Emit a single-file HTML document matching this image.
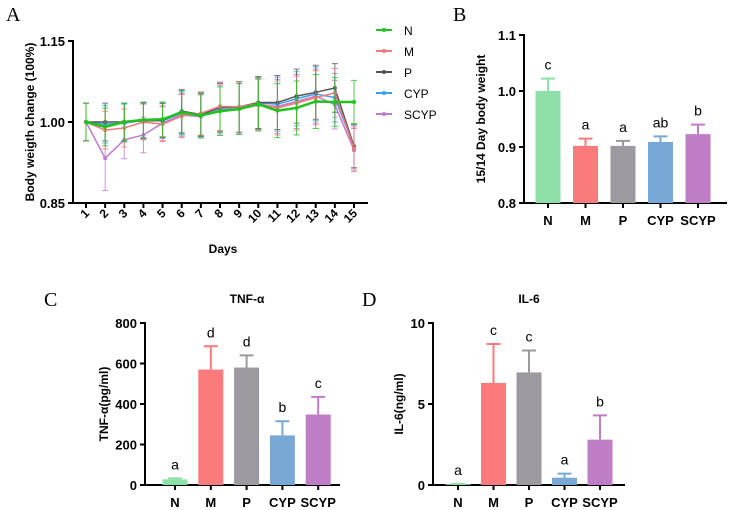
<!DOCTYPE html>
<html><head><meta charset="utf-8"><style>
body{margin:0;background:#fff;}
svg{display:block;font-family:"Liberation Sans",Arial,sans-serif;}
.b{font-weight:bold;}
</style></head><body>
<svg id="s" width="730" height="510" viewBox="0 0 730 510">
<text x="6" y="21" font-family="Liberation Serif" font-size="20">A</text>
<text x="453" y="21" font-family="Liberation Serif" font-size="20">B</text>
<text x="44" y="306" font-family="Liberation Serif" font-size="20">C</text>
<text x="362" y="306" font-family="Liberation Serif" font-size="20">D</text>
<g id="gA"></g>
<g id="gB"></g>
<g id="gC"></g>
<g id="gD"></g>
</svg>
<script>
const NS='http://www.w3.org/2000/svg';
// Panel A data
const days=[1,2,3,4,5,6,7,8,9,10,11,12,13,14,15];
const seriesNames=['N','M','P','CYP','SCYP'];
const lineColors=['#1fc21f','#f07878','#555555','#3aa0e8','#c07ad0'];
const valN=[1.0,0.991,1.0,1.004,1.005,1.018,1.012,1.02,1.024,1.033,1.021,1.026,1.038,1.037,1.037];
const valM=[1.0,0.985,0.989,1.0,0.996,1.011,1.016,1.029,1.028,1.034,1.026,1.035,1.045,1.054,0.951];
const valP=[1.0,1.0,1.0,1.002,1.003,1.02,1.014,1.027,1.028,1.036,1.036,1.048,1.055,1.063,0.955];
const valCYP=[1.0,0.996,0.998,1.003,1.002,1.016,1.013,1.026,1.027,1.035,1.033,1.043,1.052,1.045,0.955];
const valSCYP=[1.0,0.933,0.967,0.976,0.998,1.013,1.01,1.023,1.024,1.031,1.029,1.038,1.048,1.032,0.948];
const errA=[0.035,0.035,0.035,0.033,0.032,0.04,0.04,0.045,0.047,0.048,0.05,0.05,0.05,0.045,0.04];
const errSCYP2=0.06;
const ticksA=[0.85,1.00,1.15];
// bar data
const groups=['N','M','P','CYP','SCYP'];
const barColors=['#8fdfa8','#fb7a7c','#9c9a9e','#78a9d6','#bf7dc6'];
const valB=[1.0,0.902,0.902,0.909,0.923];
const errB=[0.022,0.013,0.009,0.01,0.017];
const letB=['c','a','a','ab','b'];
const ticksB=[0.8,0.9,1.0,1.1];
const valC=[28,570,580,245,348];
const errC=[5,115,60,70,87];
const letC=['a','d','d','b','c'];
const ticksC=[0,200,400,600,800];
const valD=[0.05,6.3,6.95,0.45,2.8];
const errD=[0.02,2.4,1.35,0.25,1.5];
const letD=['a','c','c','a','b'];
const ticksD=[0,5,10];

function el(p,t,a,txt){const e=document.createElementNS(NS,t);for(const k in a)e.setAttribute(k,a[k]);if(txt!==undefined)e.textContent=txt;p.appendChild(e);return e;}

// Panel A
(function(){
const g=document.getElementById('gA');
const x=d=>86+(d-1)*(354-86)/14;
const y=v=>203-(v-0.85)/(0.30)*162;
el(g,'line',{x1:73,y1:40,x2:73,y2:204,stroke:'#000','stroke-width':2});
el(g,'line',{x1:72,y1:203,x2:368,y2:203,stroke:'#000','stroke-width':2});
ticksA.forEach(t=>{
  const tk=el(g,'line',{x1:68,x2:73,y1:y(t),y2:y(t),stroke:'#000','stroke-width':2});
  
  const l=el(g,'text',{x:65,y:y(t)+5,'text-anchor':'end','font-size':13,class:'b'},t.toFixed(2));
  
});
days.forEach(d=>{
  el(g,'line',{x1:x(d),x2:x(d),y1:203,y2:208,stroke:'#000','stroke-width':2});
  const l=el(g,'text',{x:x(d)+4,y:214,'text-anchor':'end','font-size':12,class:'b',transform:`rotate(-45 ${x(d)+4} 214)`},d);
  
});
const t1=el(g,'text',{x:223,y:253,'text-anchor':'middle','font-size':12,class:'b'},'Days');

const t2=el(g,'text',{x:0,y:0,'text-anchor':'middle','font-size':12,class:'b',transform:'translate(34 122) rotate(-90)'},'Body weigth change (100%)');

const all=[valSCYP,valCYP,valP,valM,valN];
const cols=[lineColors[4],lineColors[3],lineColors[2],lineColors[1],lineColors[0]];
const nm=['SCYP','CYP','P','M','N'];
all.forEach((vals,si)=>{
  const c=cols[si];
  vals.forEach((v,i)=>{
    let e=errA[i]; if(nm[si]==='SCYP'&&i===1)e=errSCYP2;
    const eb=el(g,'path',{d:`M${x(days[i])},${y(v-e)}V${y(v+e)}M${x(days[i])-3},${y(v-e)}h6M${x(days[i])-3},${y(v+e)}h6`,stroke:c,'stroke-width':1,fill:'none',opacity:0.8});
    
  });
  const p=el(g,'polyline',{points:vals.map((v,i)=>x(days[i])+','+y(v)).join(' '),fill:'none',stroke:c,'stroke-width':nm[si]==='N'?2.5:1.5});
  
  vals.forEach((v,i)=>{
    const m=el(g,'circle',{cx:x(days[i]),cy:y(v),r:2,fill:c});
    
  });
});
seriesNames.forEach((n,i)=>{
  const ly=30+i*21;
  const lg=el(g,'g',{});
  
  el(lg,'line',{x1:376,x2:392,y1:ly,y2:ly,stroke:lineColors[i],'stroke-width':2});
  el(lg,'circle',{cx:384,cy:ly,r:2,fill:lineColors[i]});
  el(lg,'text',{x:404,y:ly+5,'font-size':12},n);
});
})();

function bars(gid,o){
const g=document.getElementById(gid);
const y=v=>o.y0-(v-o.min)/(o.max-o.min)*(o.y0-o.y1);
el(g,'line',{x1:o.ax,y1:o.y1-1,x2:o.ax,y2:o.y0+1,stroke:'#000','stroke-width':2});
el(g,'line',{x1:o.ax-1,y1:o.y0,x2:o.xend,y2:o.y0,stroke:'#000','stroke-width':2});
o.ticks.forEach(t=>{
  el(g,'line',{x1:o.ax-5,x2:o.ax,y1:y(t),y2:y(t),stroke:'#000','stroke-width':2});
  const l=el(g,'text',{x:o.ax-8,y:y(t)+5,'text-anchor':'end','font-size':13,class:'b'},o.fmt(t));
  
});
o.vals.forEach((v,i)=>{
  const cx=o.x0+i*o.step, c=barColors[i];
  const top=y(v+o.err[i]);
  const eb=el(g,'path',{d:`M${cx},${y(v)}V${top}M${cx-7},${top}h14`,stroke:c,'stroke-width':2,fill:'none'});
  
  const r=el(g,'rect',{x:cx-12.5,y:y(v),width:25,height:o.y0-y(v),fill:c});
  
  el(g,'line',{x1:cx,x2:cx,y1:o.y0,y2:o.y0+5,stroke:'#000','stroke-width':2});
  const lt=el(g,'text',{x:cx,y:top-9,'text-anchor':'middle','font-size':14},o.let[i]);
  
  const xl=el(g,'text',{x:cx,y:o.y0+22,'text-anchor':'middle','font-size':13,class:'b'},groups[i]);
  
});
const yt=el(g,'text',{x:0,y:0,'text-anchor':'middle','font-size':12,class:'b',transform:`translate(${o.ytx} ${(o.y0+o.y1)/2}) rotate(-90)`},o.ytitle);

if(o.title){const tt=el(g,'text',{x:o.tx,y:o.y1-20,'text-anchor':'middle','font-size':12,class:'b'},o.title);
}
}
bars('gB',{ax:524,y0:203,y1:35,min:0.8,max:1.1,xend:727,x0:548,step:37.5,vals:valB,err:errB,let:letB,ticks:ticksB,fmt:t=>t.toFixed(1),ytx:485,ytitle:'15/14 Day body weight'});
bars('gC',{ax:145,y0:485,y1:323,min:0,max:800,xend:340,x0:175,step:35.8,vals:valC,err:errC,let:letC,ticks:ticksC,fmt:t=>t,ytx:108,ytitle:'TNF-α(pg/ml)',title:'TNF-α',tx:247});
bars('gD',{ax:433,y0:485,y1:323,min:0,max:10,xend:625,x0:458,step:35.5,vals:valD,err:errD,let:letD,ticks:ticksD,fmt:t=>t,ytx:403,ytitle:'IL-6(ng/ml)',title:'IL-6',tx:529});
</script>
</body></html>
